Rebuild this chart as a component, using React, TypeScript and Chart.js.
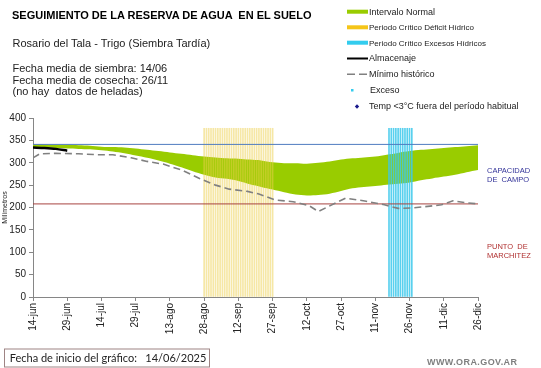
import React, { useEffect, useRef } from "react";
import { Chart, registerables } from "chart.js";

Chart.register(...registerables);

// ---- data (day index from 14-jun) ----
const tickLabels = ["14-jun", "29-jun", "14-jul", "29-jul", "13-ago", "28-ago", "12-sep", "27-sep", "12-oct", "27-oct", "11-nov", "26-nov", "11-dic", "26-dic"];

const bandDays = [0, 5, 10, 15, 20, 25, 30, 35, 40, 45, 50, 55, 60, 65, 70, 75, 80, 85, 90, 95, 100, 105, 110, 115, 120, 125, 130, 135, 140, 145, 150, 155, 160, 165, 170, 175, 180, 185, 190, 195];
const upperBand = [341, 341, 340, 340, 339, 338, 336, 335, 334, 332, 329, 326, 323, 320, 317, 314, 312, 310, 309, 307, 305, 301, 299, 299, 298, 300, 303, 307, 310, 312, 314, 318, 322, 326, 329, 331, 333, 335, 337, 339];
const lowerBand = [335, 334, 333, 332, 331, 330, 328, 325, 321, 316, 311, 305, 298, 290, 281, 273, 267, 264, 259, 252, 246, 240, 234, 229, 227, 228, 231, 237, 243, 246, 248, 251, 253, 256, 261, 265, 269, 273, 279, 284];

const minDays = [0, 3, 10, 20, 28, 35, 43, 50, 57, 65, 73, 80, 86, 94, 99, 106, 114, 121, 125, 137, 146, 154, 160, 166, 174, 179, 184, 189, 195];
const minValues = [311, 320, 321, 320, 318, 318, 311, 303, 297, 284, 265, 250, 241, 236, 230, 217, 213, 204, 191, 221, 214, 206, 198, 199, 203, 206, 215, 211, 208];

const storageDays = [0, 5, 10, 15];
const storageValues = [334, 333, 331, 327];

const deficitDays = [75, 76, 77, 78, 79, 80, 81, 82, 83, 84, 85, 86, 87, 88, 89, 90, 91, 92, 93, 94, 95, 96, 97, 98, 99, 100, 101, 102, 103, 104, 105];
const excessDays = [156, 157, 158, 159, 160, 161, 162, 163, 164, 165, 166];
const criticalTop = 377;

const fieldCapacity = 341;
const wiltingPoint = 208;
const rangeDays = [0, 195];

const FONT = "'Liberation Sans', Arial, sans-serif";

function pts(xs: number[], ys: number[]) {
  return xs.map((x, i) => ({ x, y: ys[i] }));
}

export default function App() {
  const ref = useRef<HTMLCanvasElement>(null);

  useEffect(() => {
    const canvas = ref.current;
    if (!canvas) return;
    const chart = new Chart(canvas, {
      type: "line",
      data: {
        datasets: [
          {
            label: "Intervalo Normal",
            data: pts(bandDays, upperBand),
            borderWidth: 0,
            borderColor: "rgba(0,0,0,0)",
            backgroundColor: "#99cc00",
            pointRadius: 0,
            fill: "+1",
            tension: 0.3,
            order: 10,
          },
          {
            label: "lower",
            data: pts(bandDays, lowerBand),
            borderWidth: 0,
            borderColor: "rgba(0,0,0,0)",
            pointRadius: 0,
            fill: false,
            tension: 0.3,
            order: 11,
          },
          {
            type: "bar",
            label: "Periodo Crítico Déficit Hídrico",
            data: deficitDays.map((d) => ({ x: d, y: criticalTop })),
            backgroundColor: "rgba(238,208,75,0.5)",
            borderWidth: 0,
            barThickness: 1,
            grouped: false,
            order: 8,
          } as any,
          {
            type: "bar",
            label: "Periodo Crítico Excesos Hídricos",
            data: excessDays.map((d) => ({ x: d, y: criticalTop })),
            backgroundColor: "rgba(60,200,235,0.85)",
            borderWidth: 0,
            barThickness: 1,
            grouped: false,
            order: 7,
          } as any,
          {
            label: "Capacidad de campo",
            data: pts(rangeDays, [fieldCapacity, fieldCapacity]),
            borderColor: "#4f7cc0",
            borderWidth: 1,
            pointRadius: 0,
            fill: false,
            order: 5,
          },
          {
            label: "Punto de marchitez",
            data: pts(rangeDays, [wiltingPoint, wiltingPoint]),
            borderColor: "#a84440",
            borderWidth: 1,
            pointRadius: 0,
            fill: false,
            order: 5,
          },
          {
            label: "Mínimo histórico",
            data: pts(minDays, minValues),
            borderColor: "#808080",
            borderWidth: 1.6,
            borderDash: [7, 4],
            pointRadius: 0,
            fill: false,
            order: 4,
          },
          {
            label: "Almacenaje",
            data: pts(storageDays, storageValues),
            borderColor: "#000000",
            borderWidth: 2.5,
            pointRadius: 0,
            fill: false,
            tension: 0.3,
            order: 3,
          },
        ],
      },
      options: {
        animation: false,
        responsive: false,
        events: [],
        layout: { padding: { top: 118, right: 63, bottom: 0, left: 0 } },
        plugins: {
          legend: { display: false },
          tooltip: { enabled: false },
          title: { display: false },
        },
        scales: {
          x: {
            type: "linear",
            min: 0,
            max: 195,
            offset: false,
            afterFit: (s: any) => {
              s.height = 71;
            },
            grid: {
              display: true,
              drawOnChartArea: false,
              drawTicks: true,
              tickLength: 4,
              color: "#868686",
              offset: false,
            },
            border: { display: true, color: "#868686" },
            ticks: {
              stepSize: 15,
              autoSkip: false,
              minRotation: 90,
              maxRotation: 90,
              color: "#222",
              padding: 2,
              font: { family: FONT, size: 10 },
              callback: (v: any) => tickLabels[Math.round(Number(v) / 15)] ?? "",
            },
          },
          y: {
            min: 0,
            max: 400,
            afterFit: (s: any) => {
              s.width = 33;
            },
            grid: {
              display: true,
              drawOnChartArea: false,
              drawTicks: true,
              tickLength: 4,
              color: "#868686",
            },
            border: { display: true, color: "#868686" },
            ticks: {
              stepSize: 50,
              color: "#222",
              padding: 3,
              font: { family: FONT, size: 10 },
            },
            title: {
              display: true,
              text: "Milímetros",
              color: "#222",
              font: { family: FONT, size: 7 },
              padding: { top: 1, bottom: 0 },
            },
          },
        },
      } as any,
    });
    return () => chart.destroy();
  }, []);

  return (
    <div style={{ position: "fixed", left: 0, top: 0, width: 541, height: 368, background: "#fff", overflow: "hidden" }}>
      <canvas ref={ref} width={541} height={368} style={{ position: "absolute", left: 0, top: 0, width: 541, height: 368 }} />
      <svg width={541} height={368} style={{ position: "absolute", left: 0, top: 0, pointerEvents: "none" }} fontFamily={FONT}>
        <text x={12} y={18.5} fontSize={11} fontWeight="bold" fill="#000" style={{ whiteSpace: "pre" }}>SEGUIMIENTO DE LA RESERVA DE AGUA  EN EL SUELO</text>
        <text x={12.5} y={47} fontSize={11} fill="#222">Rosario del Tala - Trigo (Siembra Tardía)</text>
        <text x={12.5} y={72} fontSize={11} fill="#222">Fecha media de siembra: 14/06</text>
        <text x={12.5} y={83.5} fontSize={11} fill="#222">Fecha media de cosecha: 26/11</text>
        <text x={12.5} y={95} fontSize={11} fill="#222" style={{ whiteSpace: "pre" }}>(no hay  datos de heladas)</text>

        {/* legend */}
        <rect x={347} y={9.7} width={21} height={4} fill="#99cc00" />
        <text x={369} y={14.7} fontSize={9} fill="#222">Intervalo Normal</text>
        <rect x={347} y={25.3} width={21} height={4} fill="#f5c518" />
        <text x={369} y={30.3} fontSize={8} fill="#222">Periodo Crítico Déficit Hídrico</text>
        <rect x={347} y={40.7} width={21} height={4} fill="#33ccee" />
        <text x={369} y={45.7} fontSize={8} fill="#222">Periodo Crítico Excesos Hídricos</text>
        <line x1={347} x2={368} y1={58.5} y2={58.5} stroke="#000" strokeWidth={2} />
        <text x={369} y={61.3} fontSize={9} fill="#222">Almacenaje</text>
        <line x1={347} x2={368} y1={74.3} y2={74.3} stroke="#808080" strokeWidth={1.5} strokeDasharray="8 4" />
        <text x={369} y={77} fontSize={9} fill="#222">Mínimo histórico</text>
        <rect x={351} y={89} width={2.5} height={2.5} fill="#33ccee" />
        <text x={370} y={93} fontSize={9} fill="#222">Exceso</text>
        <polygon points="357,104.3 359.2,106.5 357,108.7 354.8,106.5" fill="#1a1a8c" />
        <text x={369} y={109} fontSize={9} fill="#222">Temp &lt;3°C fuera del período habitual</text>

        {/* reference labels */}
        <text x={487} y={173.3} fontSize={7.5} fill="#333399">CAPACIDAD</text>
        <text x={487} y={181.7} fontSize={7.5} fill="#333399" style={{ whiteSpace: "pre" }}>DE  CAMPO</text>
        <text x={487} y={249.3} fontSize={7.5} fill="#b03030" style={{ whiteSpace: "pre" }}>PUNTO  DE</text>
        <text x={487} y={258.3} fontSize={7.5} fill="#b03030">MARCHITEZ</text>

        {/* footer */}
        <rect x={4.5} y={349} width={205} height={18} fill="#fff" stroke="#9e8484" strokeWidth={1} />
        <text x={9.7} y={362} fontSize={11} fill="#222" fontFamily="Lato, 'Open Sans', sans-serif" style={{ whiteSpace: "pre" }}>Fecha de inicio del gráfico:   14/06/2025</text>
        <text x={427} y={364.5} fontSize={9} fontWeight="bold" fill="#7f7f7f" textLength={90}>WWW.ORA.GOV.AR</text>
      </svg>
    </div>
  );
}
